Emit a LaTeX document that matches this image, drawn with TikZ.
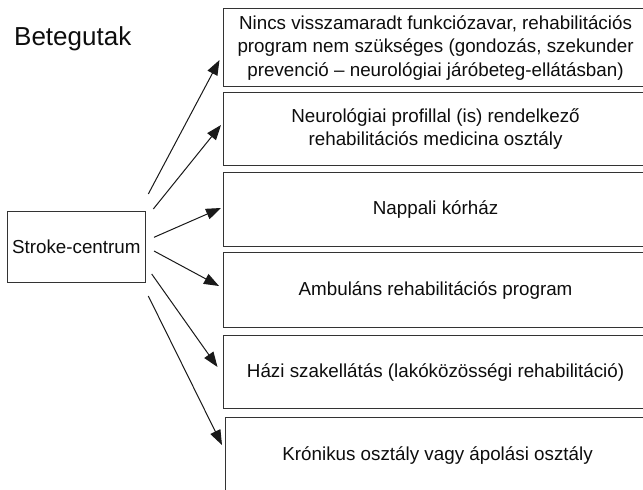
\documentclass[tikz,border=0pt]{standalone}
\usepackage{fontspec}
\setmainfont{Liberation Sans}
\usetikzlibrary{arrows.meta}
\begin{document}
\begin{tikzpicture}[x=1pt,y=-1pt,
  box/.style={draw=black!80,line width=1.1pt,inner sep=0pt,align=center,
    font=\fontsize{18.8}{23.5}\selectfont,anchor=north west,text=black!95},
  arr/.style={draw=black!90,line width=1pt,-{Triangle[length=15pt,width=11pt]}}]
\useasboundingbox (0,0) rectangle (643,490);
\node[anchor=base west,inner sep=0pt,font=\fontsize{26}{30}\selectfont,text=black!95] (title) at (14,45) {Betegutak};
\node[box,minimum width=137.5pt,minimum height=70.5pt] (sc) at (7,211) {Stroke-centrum};
\node[box,minimum width=424pt,minimum height=78pt] (b1) at (223,8)
  {Nincs visszamaradt funkciózavar, rehabilitációs\\program nem szükséges (gondozás, szekunder\\prevenció – neurológiai járóbeteg-ellátásban)};
\node[box,minimum width=424pt,minimum height=73pt] (b2) at (223,92)
  {Neurológiai profillal (is) rendelkező\\rehabilitációs medicina osztály};
\node[box,minimum width=424pt,minimum height=74pt] (b3) at (223,172) {Nappali kórház};
\node[box,minimum width=424pt,minimum height=75pt] (b4) at (223,252) {Ambuláns rehabilitációs program};
\node[box,minimum width=424pt,minimum height=73pt] (b5) at (223,335) {Házi szakellátás (lakóközösségi rehabilitáció)};
\node[box,minimum width=424pt,minimum height=76pt] (b6) at (225,417) {Krónikus osztály vagy ápolási osztály};
\coordinate (s1) at (148.3,194);
\coordinate (s2) at (153.3,209);
\coordinate (s3) at (154,237.3);
\coordinate (s4) at (154,251);
\coordinate (s5) at (151.7,274);
\coordinate (s6) at (148.3,296);
\coordinate (e1) at (219.5,60);
\coordinate (e2) at (221,125);
\coordinate (e3) at (221,208);
\coordinate (e4) at (219,286);
\coordinate (e5) at (217.5,367);
\coordinate (e6) at (222,445);
\foreach \i in {1,...,6} {\draw[arr] (s\i) -- (e\i);}
\end{tikzpicture}
\end{document}
